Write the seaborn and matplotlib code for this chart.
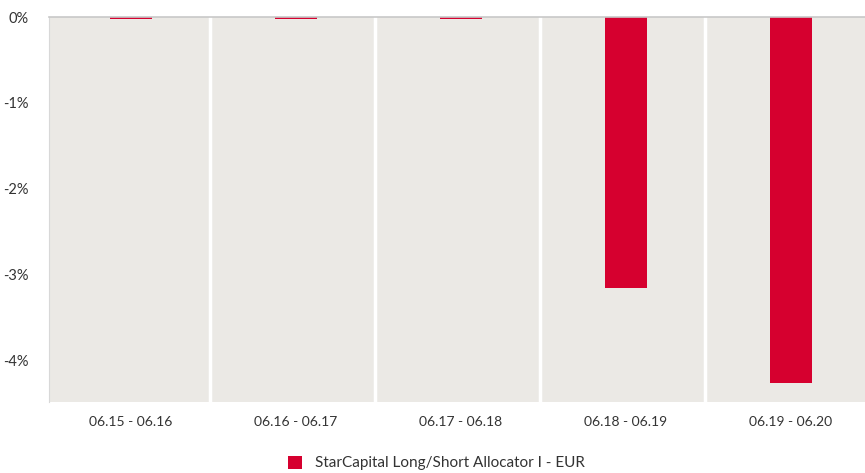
import pandas as pd
import matplotlib
matplotlib.use("Agg")
import matplotlib.pyplot as plt
import seaborn as sns
from matplotlib.ticker import FuncFormatter

periods = ['06.15 - 06.16', '06.16 - 06.17', '06.17 - 06.18', '06.18 - 06.19', '06.19 - 06.20']
returns = [-0.02, -0.02, -0.02, -3.15, -4.26]
fund = 'StarCapital Long/Short Allocator I - EUR'

df = pd.DataFrame({'period': periods, 'ret': returns, 'fund': fund})

sns.set_theme(style='white')
plt.rcParams['font.family'] = ['Lato', 'DejaVu Sans']

fig = plt.figure(figsize=(8.65, 4.73), dpi=100)
ax = fig.add_axes([48.5 / 865, 1 - 402 / 473, 825 / 865, 385 / 473])

sns.barplot(data=df, x='period', y='ret', hue='fund', palette=['#d6002f'],
            width=0.25, dodge=False, saturation=1, linewidth=0, ax=ax, legend=True)

ax.set_facecolor('#ebe9e5')
for i in range(len(periods) - 1):
    ax.axvline(i + 0.48, color='white', lw=2.5, zorder=0.5)

ax.set_xlim(-0.5, len(periods) - 0.5)
ax.set_ylim(-4.48, 0)
ax.set_yticks([0, -1, -2, -3, -4])
ax.yaxis.set_major_formatter(FuncFormatter(lambda v, p: f'{v:.0f}%'))
ax.set_xlabel('')
ax.set_ylabel('')
ax.tick_params(axis='both', length=0, labelsize=10.5, colors='#333333')
ax.tick_params(axis='x', labelsize=10, pad=10)
ax.tick_params(axis='y', pad=14)

for s in ['right', 'bottom']:
    ax.spines[s].set_visible(False)
ax.spines['top'].set_color('#c8c8c8')
ax.spines['left'].set_color('#d8d8d8')
ax.spines['top'].set_linewidth(1.2)
ax.spines['left'].set_linewidth(0.8)

ax.legend_.remove()
handles, labels = ax.get_legend_handles_labels()
fig.legend(handles, labels, loc='center', bbox_to_anchor=(436 / 865, 1 - 463 / 473),
           frameon=False, fontsize=11, handlelength=0.92, handleheight=0.92,
           labelcolor='#333333', handletextpad=0.85)

fig.savefig('out.png', dpi=100)
